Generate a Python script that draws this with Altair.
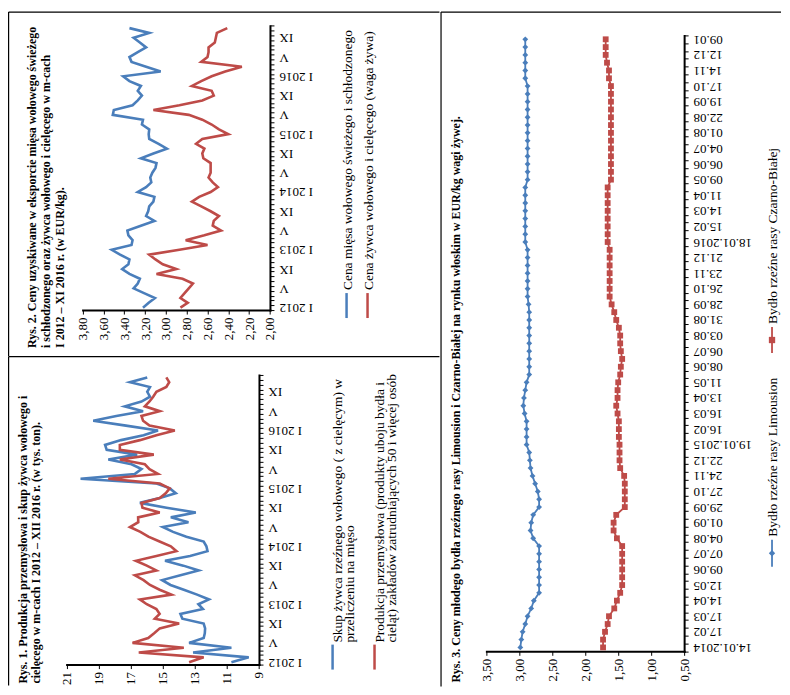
import altair as alt
import pandas as pd

FONT = "Liberation Serif"
BLUE = "#4A7EBB"
RED = "#BE4B48"
BLACK = "#000000"

# ---------------- Rys. 1 (monthly I 2012 - XII 2016) ----------------
months1 = ["I 2012", "V", "IX", "I 2013", "V", "IX", "I 2014", "V", "IX",
           "I 2015", "V", "IX", "I 2016", "V", "IX"]
skup = [10.72, 9.64, 13.11, 10.72, 13.36, 12.45, 12.38, 12.36, 12.45, 13.78,
        13.9, 12.5, 12.78, 12.12, 12.86, 13.69, 14.52, 15.04, 13.9, 12.76,
        13.72, 14.86, 13.3, 12.21, 12.28, 12.45, 13.53, 14.36, 15.0, 13.4,
        14.5, 12.94, 14.77, 16.43, 15.19, 14.19, 14.56, 15.39, 20.13, 16.74,
        16.33, 16.95, 18.4, 16.6, 18.5, 18.6, 17.6, 16.2, 15.3, 17.3,
        19.34, 17.9, 16.23, 17.37, 16.33, 15.8, 15.97, 15.8, 17.05, 15.97]
produkcja = [13.36, 12.45, 16.5, 13.69, 16.89, 15.91, 15.54, 15.19, 13.98, 15.5,
             15.2, 15.4, 16.0, 16.43, 14.46, 15.2, 15.8, 16.2, 16.74, 15.4,
             16.0, 16.68, 15.4, 14.15, 14.5, 15.2, 15.9, 16.4, 17.05, 16.53,
             16.54, 15.19, 16.27, 16.33, 15.19, 14.82, 14.57, 15.19, 18.4, 15.3,
             15.83, 16.12, 17.68, 15.56, 17.68, 17.68, 16.43, 15.4, 14.25, 15.83,
             16.23, 16.33, 15.19, 16.12, 15.83, 15.6, 15.4, 14.78, 14.6, 14.78]
ticks1 = [9, 11, 13, 15, 17, 19, 21]
series1 = ["Skup", "Produkcja"]
title1 = ["Rys. 1. Produkcja przemysłowa i skup żywca wołowego i",
          "cielęcego w  m-cach I 2012 – XII 2016 r. (w tys. ton)."]
legend1 = ["Skup żywca rzeźnego wołowego ( z cielęcym) w", "przeliczeniu na mięso",
           "Produkcja przemysłowa (produkty uboju bydła i",
           "cieląt) zakładów zatrudniających 50 i więcej osób"]

# ---------------- Rys. 2 (monthly I 2012 - XI 2016) ----------------
months2 = months1
mieso = [3.22, 3.165, 3.105, 3.21, 3.31, 3.27, 3.25, 3.35, 3.42, 3.36,
         3.35, 3.44, 3.52, 3.33, 3.32, 3.36, 3.37, 3.24, 3.11, 3.19,
         3.17, 3.16, 3.12, 3.11, 3.27, 3.19, 3.14, 3.15, 3.13, 3.10,
         3.09, 3.24, 3.12, 2.99, 3.07, 3.16, 3.165, 3.16, 3.23, 3.22,
         3.51, 3.50, 3.32, 3.27, 3.23, 3.27, 3.24, 3.35, 3.41, 3.05,
         3.19, 3.33, 3.35, 3.27, 3.19, 3.25, 3.31, 3.16, 3.35]
zywiec = [2.86, 2.79, 2.86, 2.82, 2.78, 2.74, 2.84, 3.09, 2.90, 3.03,
          3.10, 3.16, 2.87, 2.60, 2.81, 2.63, 2.47, 2.55, 2.54, 2.49,
          2.57, 2.66, 2.75, 2.68, 2.57, 2.50, 2.55, 2.59, 2.57, 2.57,
          2.57, 2.64, 2.65, 2.63, 2.71, 2.65, 2.40, 2.49, 2.56, 2.65,
          2.78, 3.12, 2.87, 2.65, 2.54, 2.56, 2.75, 2.66, 2.56, 2.43,
          2.27, 2.66, 2.60, 2.59, 2.59, 2.53, 2.52, 2.51, 2.41]
ticks2 = [2.0, 2.2, 2.4, 2.6, 2.8, 3.0, 3.2, 3.4, 3.6, 3.8]
series2 = ["Mieso", "Zywiec"]
title2 = ["Rys. 2. Ceny uzyskiwane w eksporcie mięsa wołowego świeżego",
          "i schłodzonego oraz żywca wołowego i cielęcego w m-cach",
          "I 2012 – XI 2016 r. (w EUR/kg)."]
legend2 = ["Cena mięsa wołowego świeżego i schłodzonego",
           "Cena żywca wołowego i cielęcego (waga żywa)"]

# ---------------- Rys. 3 (quotations 14.01.2014 - 09.01.2017) ----------------
dates3 = ["14.01.2014", "17.02", "17.03", "14.04", "12.05", "09.06", "07.07",
          "04.08", "01.09", "29.09", "27.10", "24.11", "22.12", "19.01.2015",
          "16.02", "16.03", "13.04", "11.05", "08.06", "06.07", "03.08", "31.08",
          "28.09", "26.10", "23.11", "21.12", "18.01.2016", "15.02", "14.03",
          "11.04", "09.05", "06.06", "04.07", "01.08", "22.08", "19.09", "17.10",
          "14.11", "12.12", "09.01"]
limousin = [2.985, 2.97, 2.95, 2.91, 2.875, 2.82, 2.78, 2.70, 2.70, 2.70,
            2.70, 2.70, 2.70, 2.70, 2.79, 2.83, 2.82, 2.79, 2.70, 2.70,
            2.72, 2.76, 2.80, 2.83, 2.84, 2.85, 2.89, 2.89, 2.89, 2.89,
            2.92, 2.94, 2.93, 2.91, 2.89, 2.85, 2.85, 2.85, 2.85, 2.85,
            2.85, 2.85, 2.85, 2.85, 2.86, 2.875, 2.875, 2.875, 2.875, 2.875,
            2.875, 2.875, 2.91, 2.91, 2.91, 2.91, 2.91, 2.91, 2.91, 2.91,
            2.875, 2.875, 2.875, 2.875, 2.875, 2.875, 2.875, 2.875, 2.875, 2.875,
            2.875, 2.875, 2.875, 2.91, 2.91, 2.91, 2.91, 2.91, 2.91]
czarno_biala = [1.73, 1.73, 1.70, 1.66, 1.64, 1.56, 1.52, 1.47, 1.44, 1.44,
                1.44, 1.44, 1.44, 1.44, 1.52, 1.57, 1.57, 1.53, 1.40, 1.40,
                1.40, 1.40, 1.41, 1.47, 1.48, 1.48, 1.48, 1.49, 1.49, 1.49,
                1.51, 1.53, 1.51, 1.51, 1.50, 1.47, 1.46, 1.44, 1.46, 1.47,
                1.47, 1.49, 1.53, 1.56, 1.60, 1.63, 1.63, 1.63, 1.63, 1.63,
                1.63, 1.63, 1.66, 1.66, 1.66, 1.66, 1.66, 1.66, 1.66, 1.66,
                1.61, 1.61, 1.61, 1.61, 1.61, 1.61, 1.61, 1.61, 1.61, 1.61,
                1.61, 1.61, 1.61, 1.64, 1.64, 1.67, 1.69, 1.69, 1.69]
ticks3 = [0.5, 1.0, 1.5, 2.0, 2.5, 3.0, 3.5]
series3 = ["Limousion", "Czarno-Biala"]
title3 = "Rys. 3. Ceny młodego bydła rzeźnego rasy  Limousion i Czarno-Białej na rynku włoskim w EUR/kg wagi żywej."
legend3 = ["Bydło rzeźne rasy Limousion", "Bydło rzeźne rasy Czarno-Białej"]


# ---------------- helpers ----------------
def long_df(names, a, b):
    rows = []
    for i, v in enumerate(a):
        rows.append({"i": i, "v": v, "s": names[0]})
    for i, v in enumerate(b):
        rows.append({"i": i, "v": v, "s": names[1]})
    return pd.DataFrame(rows)


def value_axis(offset, values, expr):
    return alt.Axis(orient="bottom", offset=offset, values=values, labelExpr=expr,
                    labelAngle=270, labelAlign="right", labelBaseline="middle",
                    labelPadding=3, tickSize=4, tickWidth=1, tickColor=BLACK,
                    domainColor=BLACK, domainWidth=2, domainCap="square",
                    labelFont=FONT, labelFontSize=13, labelColor=BLACK,
                    labelOverlap=False, labelFlush=False, labelBound=False,
                    grid=False, title=None)


def time_axis(offset, n, step, labels, cat_px):
    arr = [""] * (n + 1)
    for k, lab in enumerate(labels):
        arr[k * step] = lab
    expr = "[" + ",".join("'" + a + "'" for a in arr) + "][round(datum.value + 0.5)]"
    return alt.Axis(orient="right", offset=offset,
                    values=[i - 0.5 for i in range(n + 1)], labelExpr=expr,
                    labelAngle=180, labelAlign="right", labelBaseline="middle",
                    labelOffset=-cat_px / 2, labelPadding=5, tickSize=4,
                    tickWidth=1, tickColor=BLACK, domainColor=BLACK, domainWidth=2,
                    domainCap="square", labelFont=FONT, labelFontSize=13,
                    labelColor=BLACK, labelOverlap=False, labelFlush=False,
                    labelBound=False, grid=False, title=None)


def one_row():
    return pd.DataFrame({"k": [0]})


def frame(w, h):
    top = alt.Chart(one_row()).mark_rule(color=BLACK, strokeWidth=1.2).encode(
        x=alt.value(0.6), x2=alt.value(w), y=alt.value(0.6))
    left = alt.Chart(one_row()).mark_rule(color=BLACK, strokeWidth=1.2).encode(
        x=alt.value(0.6), y=alt.value(0.6), y2=alt.value(h))
    return [top, left]


def vtext(s, x, y, size, bold=False):
    return alt.Chart(pd.DataFrame({"t": [s]})).mark_text(
        angle=270, align="left", baseline="middle", font=FONT, fontSize=size,
        fontWeight="bold" if bold else "normal", color=BLACK
    ).encode(x=alt.value(x), y=alt.value(y), text="t:N")


def vrule(x, y1, y2, color, width=2.5):
    return alt.Chart(one_row()).mark_rule(color=color, strokeWidth=width).encode(
        x=alt.value(x), y=alt.value(y1), y2=alt.value(y2))


def line_layer(df, names, xenc, yenc, width):
    return alt.Chart(df).mark_line(strokeWidth=width).encode(
        x=xenc, y=yenc,
        color=alt.Color("s:N", scale=alt.Scale(domain=names, range=[BLUE, RED]), legend=None),
        order="i:Q")


comma2 = "replace(format(datum.value, '.2f'), '.', ',')"

# ---------------- Panel 2 (top-left) ----------------
W2, H2 = 432, 345
n2 = len(mieso)
x2 = alt.X("v:Q", scale=alt.Scale(domain=[2.0, 3.8], range=[262.3, 74.7], nice=False, zero=False),
           axis=value_axis(299 - H2, ticks2, comma2))
y2 = alt.Y("i:Q", scale=alt.Scale(domain=[-0.5, n2 - 0.5], range=[299, 14.3], nice=False, zero=False),
           axis=time_axis(262.3 - W2, n2, 4, months2, 284.7 / n2))
p2 = alt.layer(
    *frame(W2, H2),
    line_layer(long_df(series2, mieso, zywiec), series2, x2, y2, 2.6),
    vtext(title2[0], 24, 337, 12, bold=True),
    vtext(title2[1], 38, 337, 12, bold=True),
    vtext(title2[2], 52, 337, 12, bold=True),
    vrule(339, 282, 307, BLUE),
    vtext(legend2[0], 340, 279, 13.5),
    vrule(360, 282, 307, RED),
    vtext(legend2[1], 361, 279, 13.5),
).properties(width=W2, height=H2)

# ---------------- Panel 1 (bottom-left) ----------------
W1, H1 = 432, 330
n1 = len(skup)
x1 = alt.X("v:Q", scale=alt.Scale(domain=[9, 21], range=[251.3, 58.7], nice=False, zero=False),
           axis=value_axis(309 - H1, ticks1, "format(datum.value, 'd')"))
y1 = alt.Y("i:Q", scale=alt.Scale(domain=[-0.5, n1 - 0.5], range=[309, 19], nice=False, zero=False),
           axis=time_axis(251.3 - W1, n1, 4, months1, 290 / n1))
p1 = alt.layer(
    *frame(W1, H1),
    line_layer(long_df(series1, skup, produkcja), series1, x1, y1, 2.6),
    vtext(title1[0], 15, 328, 12, bold=True),
    vtext(title1[1], 28, 328, 12, bold=True),
    vrule(325, 289, 314, BLUE),
    vtext(legend1[0], 330, 287, 13.5),
    vtext(legend1[1], 342, 287, 13.5),
    vrule(367, 289, 314, RED),
    vtext(legend1[2], 372, 287, 13.5),
    vtext(legend1[3], 385, 287, 13.5),
).properties(width=W1, height=H1)

# ---------------- Panel 3 (right) ----------------
W3, H3 = 341, 676
n3 = len(limousin)
df3 = long_df(series3, limousin, czarno_biala)
x3 = alt.X("v:Q", scale=alt.Scale(domain=[0.5, 3.5], range=[244, 46], nice=False, zero=False),
           axis=value_axis(640.7 - H3, ticks3, comma2))
y3 = alt.Y("i:Q", scale=alt.Scale(domain=[-0.5, n3 - 0.5], range=[640.7, 24], nice=False, zero=False),
           axis=time_axis(244 - W3, n3, 2, dates3, 616.7 / n3))
pts3 = alt.Chart(df3).mark_point(filled=True, opacity=1, size=34).encode(
    x=x3, y=y3,
    color=alt.Color("s:N", scale=alt.Scale(domain=series3, range=[BLUE, RED]), legend=None),
    shape=alt.Shape("s:N", scale=alt.Scale(domain=series3, range=["diamond", "square"]), legend=None))
leg_pts = alt.Chart(pd.DataFrame({"s": series3, "yy": [542.5, 329]})).mark_point(
    filled=True, opacity=1, size=40).encode(
    x=alt.value(332), y=alt.Y("yy:Q", scale=None),
    color=alt.Color("s:N", scale=alt.Scale(domain=series3, range=[BLUE, RED]), legend=None),
    shape=alt.Shape("s:N", scale=alt.Scale(domain=series3, range=["diamond", "square"]), legend=None))
p3 = alt.layer(
    *frame(W3, H3),
    line_layer(df3, series3, x3, y3, 1.8),
    pts3,
    vtext(title3, 16, 672, 12, bold=True),
    vrule(332, 529, 556, BLUE, 1.8),
    vrule(332, 316, 342, RED, 1.8),
    leg_pts,
    vtext(legend3[0], 333, 526, 13.5),
    vtext(legend3[1], 333, 313, 13.5),
).resolve_scale(y="shared").properties(width=W3, height=H3)

left_col = alt.vconcat(p2, p1, spacing=0, bounds="flush")
chart = alt.hconcat(left_col, p3, spacing=0).properties(
    padding={"left": 0, "top": 3, "right": 0, "bottom": 0},
    background="white",
).configure_view(stroke=None)

chart.save("out.html", embed_options={"renderer": "svg", "actions": False})
